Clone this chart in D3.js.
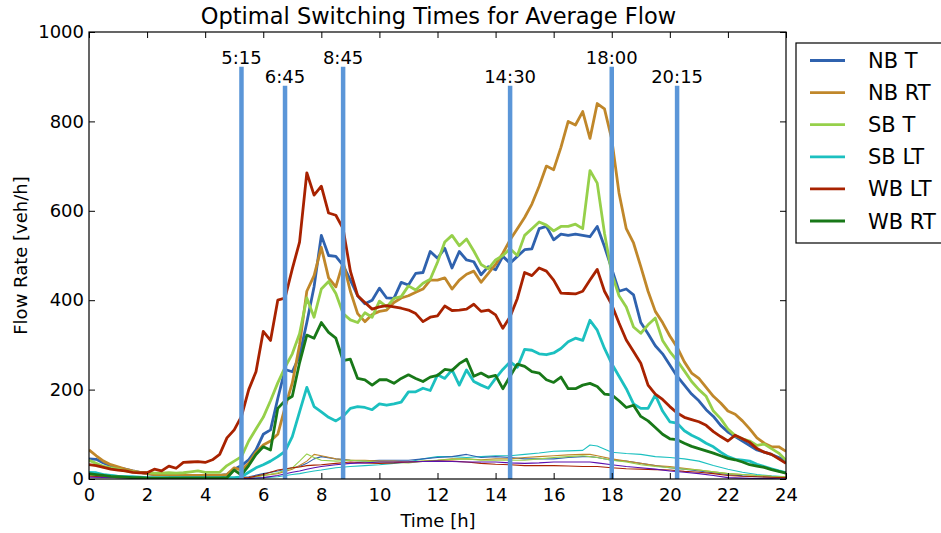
<!DOCTYPE html>
<html><head><meta charset="utf-8">
<script src="https://cdn.jsdelivr.net/npm/d3@7"></script>
<style>body{margin:0;background:#fff;}svg{display:block;font-family:"DejaVu Sans",sans-serif;}</style>
</head><body>
<svg id="c" width="941" height="533"></svg>
<script>
// time bins every 15 minutes from 0 h to 24 h
const hours = d3.range(0, 24.001, 0.25);

const nbT = [45,44,36,30, 25,22,18,15, 12,10,10,9, 9,8,8,8, 8,8,8,10,
 22,30,43,65, 100,110,180,245, 240,275,350,430, 545,500,498,478, 445,410,392,400,
 427,405,404,440, 434,460,462,509, 494,516,472,509, 490,486,457,475, 468,498,483,498,
 513,515,560,565, 535,548,545,548, 545,542,565,520, 470,420,425,412, 350,325,298,280,
 255,230,210,190, 175,155,140,120, 105,95,85,75, 65,60,55,48, 40];
const nbRT = [65,52,40,32, 27,22,18,15, 12,10,10,9, 9,8,8,8, 8,8,8,10,
 25,20,35,60, 76,85,100,160, 215,300,420,455, 518,450,430,485, 420,370,352,368,
 375,378,395,405, 410,418,425,445, 445,450,425,445, 458,465,440,460, 480,505,535,560,
 585,615,655,700, 692,742,800,792, 822,762,840,828, 760,640,560,528, 475,420,375,350,
 320,295,262,237, 225,205,185,170, 152,145,130,112, 92,80,72,72, 62];
const sbT = [42,35,28,25, 22,18,16,15, 14,13,13,14, 13,14,16,18, 15,15,15,30,
 40,50,85,112, 138,175,215,250, 280,325,405,362, 425,442,415,370, 356,350,372,362,
 398,385,404,408, 432,423,438,447, 485,530,545,522, 537,510,480,470, 490,500,515,500,
 545,560,575,568, 555,565,565,570, 560,690,662,550, 460,410,385,340, 326,345,360,310,
 285,265,242,218, 200,185,152,135, 112,97,90,85, 75,78,68,58, 42];
const sbLT = [15,14,10,8, 6,5,5,4, 3,3,3,3, 3,3,3,3, 3,3,3,3,
 3,5,15,25, 32,40,50,62, 95,150,205,162, 150,138,130,140, 158,162,160,155,
 168,165,168,172, 195,195,203,198, 233,225,244,210, 244,218,210,203, 225,245,262,250,
 290,288,280,278, 282,292,307,315, 310,355,333,292, 258,230,202,168, 158,158,188,152,
 128,125,108,98, 90,80,72,60, 50,44,42,40, 33,28,23,18, 14];
const wbLT = [32,30,26,22, 20,18,15,14, 14,22,18,29, 24,37,38,39, 37,43,55,92,
 110,140,200,240, 330,310,400,405, 470,530,685,635, 655,595,590,560, 465,410,395,380,
 385,388,385,382, 378,370,352,362, 365,387,377,378, 380,391,375,378, 367,337,363,404,
 462,455,472,465, 445,416,415,414, 420,445,469,420, 390,349,311,285, 259,210,190,178,
 162,148,138,133, 128,120,106,95, 85,98,90,82, 68,60,55,45, 35];
const wbRT = [12,10,8,6, 5,4,3,3, 2,2,2,2, 2,2,2,2, 2,2,2,3,
 20,9,30,55, 72,65,158,175, 185,260,322,315, 350,328,315,265, 268,225,222,210,
 222,222,214,225, 233,225,218,228, 232,245,243,258, 268,230,237,228, 232,202,230,257,
 252,240,237,222, 216,228,202,202, 210,214,207,190, 188,175,160,165, 140,130,115,100,
 90,88,80,73, 68,63,58,52, 46,43,38,32, 29,26,21,17, 13];

const seriesNames = ["NB T","NB RT","SB T","SB LT","WB LT","WB RT"];
const seriesColors = ["#2f62ae","#c0872a","#96d04a","#1cc0c0","#a82200","#187818"];
const seriesValues = [nbT, nbRT, sbT, sbLT, wbLT, wbRT];

// thin unlabeled movements
const thinHours = [0,1,2,3,4,5,5.5,6,6.5,7,7.25,7.5,7.75,8,8.5,9,9.5,10,10.5,11,11.5,12,12.5,13,13.5,14,14.5,15,15.5,16,16.5,17,17.25,17.5,18,18.5,19,19.5,20,20.5,21,21.5,22,22.5,23,23.5,24];
const thinCyan   = [14,8,3,2,2,2,2,3,5,10,12,15,18,20,25,28,30,32,35,38,45,50,50,48,50,52,52,55,58,62,63,64,76,74,60,57,55,50,48,45,40,30,22,15,10,7,5];
const thinBlue   = [10,6,3,2,2,2,5,12,18,25,28,35,45,50,45,42,40,42,42,42,45,48,50,55,48,50,48,45,45,45,48,50,50,48,42,40,35,30,25,22,18,14,10,7,5,4,3];
const thinGold   = [8,5,3,2,2,2,3,8,12,22,30,40,55,52,45,42,42,40,40,38,40,42,45,45,43,45,45,48,50,52,54,55,55,52,45,40,35,30,28,24,20,16,12,10,8,6,5];
const thinGreen  = [9,5,3,2,2,2,3,8,14,25,40,56,48,42,40,42,40,38,37,36,40,42,44,45,42,42,42,42,45,48,50,52,50,48,42,38,32,28,25,22,20,16,12,10,8,6,5];
const thinRed    = [6,4,2,2,2,2,3,10,20,25,27,30,31,32,35,38,36,35,36,38,39,40,40,38,35,33,32,30,30,30,29,28,28,28,25,23,22,21,20,17,15,12,8,6,5,4,3];
const thinPurple = [4,3,2,1,1,1,1,3,8,15,18,22,25,28,32,35,36,38,38,38,39,40,39,38,38,38,36,35,36,38,38,38,38,36,32,28,25,22,18,15,12,8,3,2,1,1,0];
const thinColors = ["#1cc0c0","#2f62ae","#c0872a","#96d04a","#a82200","#5a10b0"];
const thinValues = [thinCyan, thinBlue, thinGold, thinGreen, thinRed, thinPurple];

const switchHours = [5.25, 6.75, 8.75, 14.5, 18, 20.25];
const switchLabels = ["5:15","6:45","8:45","14:30","18:00","20:15"];
const switchTops = [922, 880, 922, 880, 922, 880];

const xTicks = [0,2,4,6,8,10,12,14,16,18,20,22,24];
const yTicks = [0,200,400,600,800,1000];

const svg = d3.select("#c");
const L = 89, R = 786, T = 32, B = 479;
const x = d3.scaleLinear().domain([0,24]).range([L,R]);
const y = d3.scaleLinear().domain([0,1000]).range([B,T]);

svg.append("defs").append("clipPath").attr("id","clip")
  .append("rect").attr("x",L).attr("y",T).attr("width",R-L).attr("height",B-T);

const plot = svg.append("g").attr("clip-path","url(#clip)");

thinValues.forEach((vals,i)=>{
  const line = d3.line().x((d,j)=>x(thinHours[j])).y(d=>y(d));
  plot.append("path").datum(vals).attr("d",line).attr("fill","none")
    .attr("stroke",thinColors[i]).attr("stroke-width",1.1).attr("stroke-linejoin","round");
});

seriesValues.forEach((vals,i)=>{
  const line = d3.line().x((d,j)=>x(hours[j])).y(d=>y(d));
  plot.append("path").datum(vals).attr("d",line).attr("fill","none")
    .attr("stroke",seriesColors[i]).attr("stroke-width",2.8).attr("stroke-linejoin","round");
});

switchHours.forEach((h,i)=>{
  plot.append("line").attr("x1",x(h)).attr("x2",x(h)).attr("y1",y(0)).attr("y2",y(switchTops[i]))
    .attr("stroke","#5b96d8").attr("stroke-width",4.5);
  svg.append("text").attr("x",x(h)).attr("y",y(switchTops[i])-2.5).attr("text-anchor","middle")
    .attr("font-size",18).text(switchLabels[i]);
});

// axes
const axB = d3.axisBottom(x).tickValues(xTicks).tickSize(-6).tickPadding(9).tickFormat(d3.format("d"));
const axT = d3.axisTop(x).tickValues(xTicks).tickSize(-6).tickFormat("");
const axLft = d3.axisLeft(y).tickValues(yTicks).tickSize(-6).tickPadding(5).tickFormat(d3.format("d"));
const axRt = d3.axisRight(y).tickValues(yTicks).tickSize(-6).tickFormat("");
function style(g){ g.select(".domain").remove(); g.selectAll("line").attr("stroke","#000"); g.selectAll("text").attr("font-size",18).attr("fill","#000").attr("font-family","DejaVu Sans"); }
svg.append("g").attr("transform",`translate(0,${B})`).call(axB).call(style);
svg.append("g").attr("transform",`translate(0,${T})`).call(axT).call(style);
svg.append("g").attr("transform",`translate(${L},0)`).call(axLft).call(style);
svg.append("g").attr("transform",`translate(${R},0)`).call(axRt).call(style);
svg.append("rect").attr("x",L).attr("y",T).attr("width",R-L).attr("height",B-T)
  .attr("fill","none").attr("stroke","#000").attr("stroke-width",1.2);

svg.append("text").attr("x",438.5).attr("y",24).attr("text-anchor","middle").attr("font-size",22.5)
  .text("Optimal Switching Times for Average Flow");
svg.append("text").attr("x",438).attr("y",527).attr("text-anchor","middle").attr("font-size",18).text("Time [h]");
svg.append("text").attr("transform",`translate(27,${(T+B)/2}) rotate(-90)`).attr("text-anchor","middle")
  .attr("font-size",18).text("Flow Rate [veh/h]");

// legend
const lg = svg.append("g");
lg.append("rect").attr("x",796).attr("y",43).attr("width",170).attr("height",200)
  .attr("fill","#fff").attr("stroke","#000").attr("stroke-width",1.2);
seriesNames.forEach((n,i)=>{
  const yy = 60.5 + i*32.1;
  lg.append("line").attr("x1",810).attr("x2",845).attr("y1",yy).attr("y2",yy)
    .attr("stroke",seriesColors[i]).attr("stroke-width",2.8);
  lg.append("text").attr("x",868).attr("y",yy+7.5).attr("font-size",21).text(n);
});
</script>
</body></html>
